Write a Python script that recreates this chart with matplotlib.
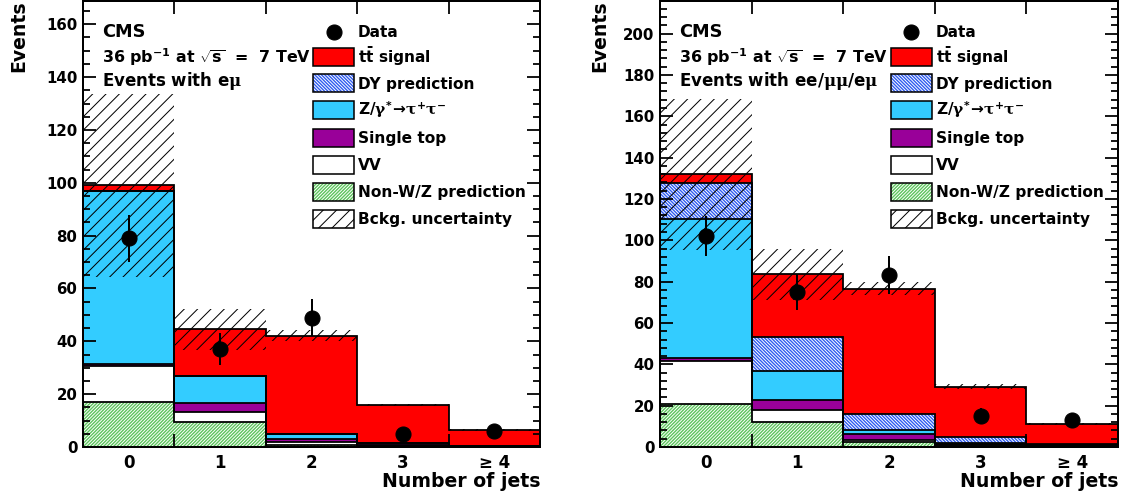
import matplotlib
matplotlib.use('Agg')
import matplotlib.pyplot as plt
import numpy as np
from matplotlib.patches import Rectangle
from matplotlib.lines import Line2D
from matplotlib.ticker import MultipleLocator, FixedLocator

# ---------------- data ----------------
bin_labels = ['0', '1', '2', '3', '\u2265 4']

# left panel: events with e-mu
em_nonwz = [17.0, 9.6, 0.8, 0.2, 0.1]
em_vv = [13.6, 3.5, 1.0, 0.3, 0.1]
em_stop = [1.0, 3.4, 1.1, 0.5, 0.2]
em_ztt = [65.3, 10.4, 2.0, 0.5, 0.1]
em_dy = [0.0, 0.0, 0.0, 0.0, 0.0]
em_ttbar = [2.2, 17.7, 37.3, 14.4, 5.9]
em_unc = [34.6, 7.7, 1.9, 0.5, 0.3]
em_data = [79, 37, 49, 5, 6]
em_err = [8.9, 6.1, 7.0, 2.2, 2.4]

# right panel: events with ee/mumu/emu
all_nonwz = [21.0, 12.1, 2.5, 0.6, 0.3]
all_vv = [20.6, 5.7, 1.1, 0.3, 0.3]
all_stop = [1.6, 5.1, 2.7, 0.5, 0.3]
all_ztt = [67.0, 13.9, 2.1, 0.5, 0.3]
all_dy = [17.7, 16.3, 7.5, 2.9, 0.4]
all_ttbar = [4.0, 30.4, 60.7, 24.4, 9.7]
all_unc = [36.6, 12.2, 3.3, 1.3, 0.5]
all_data = [102, 75, 83, 15, 13]
all_err = [9.7, 8.7, 9.2, 3.9, 3.6]

legend_labels = ['Data', r'$\mathbf{t\bar{t}}$ signal', 'DY prediction',
                 r'Z/$\gamma^{*}\!\rightarrow\!\tau^{+}\tau^{-}$', 'Single top', 'VV',
                 'Non-W/Z prediction', 'Bckg. uncertainty']

# ---------------- style ----------------
W, H = 1128, 503
DPI = 80
plt.rcParams['font.family'] = ['DejaVu Sans']
plt.rcParams['font.weight'] = 'bold'
plt.rcParams['mathtext.fontset'] = 'custom'
plt.rcParams['mathtext.rm'] = 'DejaVu Sans:bold'
plt.rcParams['mathtext.bf'] = 'DejaVu Sans:bold'
plt.rcParams['mathtext.it'] = 'DejaVu Serif'
plt.rcParams['hatch.linewidth'] = 0.9

RED = '#ff0000'
CYAN = '#33ccff'
PURPLE = '#990099'
GREEN = '#5cc45c'
BLUE = '#2f5cf0'

styles = [
    dict(facecolor='white', edgecolor=GREEN, hatch='/' * 8),    # non-W/Z
    dict(facecolor='white', edgecolor='white'),                  # VV
    dict(facecolor=PURPLE, edgecolor=PURPLE),                    # single top
    dict(facecolor=CYAN, edgecolor=CYAN),                        # Z->tautau
    dict(facecolor='white', edgecolor=BLUE, hatch='\\' * 8),     # DY
    dict(facecolor=RED, edgecolor=RED),                          # ttbar
]
BAND_HATCH = '//'
DENSE_HATCH_LW = 1.25

fig = plt.figure(figsize=(W / DPI, H / DPI), dpi=DPI)


def fx(px):
    return px / W


def fy(py):
    return 1 - py / H


def hatch_lw(st):
    return DENSE_HATCH_LW if 'hatch' in st else 0.9


def draw_panel(ax, comps, unc, data, err, ymax, minor_step):
    x = np.arange(len(bin_labels))
    edges = np.arange(len(bin_labels) + 1) - 0.5
    cum = np.zeros(len(x))
    tops = []
    for vals, st in zip(comps, styles):
        vals = np.asarray(vals, float)
        with plt.rc_context({'hatch.linewidth': hatch_lw(st)}):
            ax.bar(x, vals, bottom=cum, width=1.0, linewidth=0, zorder=1, **st)
        cum = cum + vals
        tops.append(cum.copy())
    for t in tops:
        ax.stairs(t, edges, baseline=0, color='k', lw=1.6, zorder=2)
    unc = np.asarray(unc, float)
    ax.bar(x, 2 * unc, bottom=cum - unc, width=1.0, facecolor='none',
           edgecolor='k', hatch=BAND_HATCH, linewidth=0, zorder=3)
    ax.errorbar(x, data, yerr=err, fmt='o', color='k', ms=13.5,
                elinewidth=1.8, capsize=0, zorder=4)
    ax.set_xlim(-0.5, 4.5)
    ax.set_ylim(0, ymax)
    ax.set_xticks(x)
    ax.set_xticklabels(bin_labels, fontsize=15, fontweight='bold')
    ax.xaxis.set_minor_locator(FixedLocator(edges[1:-1]))
    ax.tick_params(axis='x', which='major', length=0, pad=6)
    ax.tick_params(axis='x', which='minor', direction='in', top=True,
                   bottom=True, length=11.5, width=1.6)
    ax.yaxis.set_major_locator(MultipleLocator(20))
    ax.yaxis.set_minor_locator(MultipleLocator(minor_step))
    ax.tick_params(axis='y', which='both', direction='in', left=True,
                   right=True, width=1.6, labelsize=13.5, pad=5)
    ax.tick_params(axis='y', which='major', length=11.5)
    ax.tick_params(axis='y', which='minor', length=6.3)
    for lab in ax.get_yticklabels():
        lab.set_fontweight('bold')
    for sp in ax.spines.values():
        sp.set_linewidth(1.8)
        sp.set_zorder(6)


def draw_legend(box_left, text_left):
    rows = [31.7, 57.3, 83.3, 110.0, 138.3, 165.0, 191.7, 219.0]
    bw, bh = 41, 18
    leg_styles = [None, styles[5], styles[4], styles[3], styles[2], styles[1],
                  styles[0], dict(facecolor='white', edgecolor='k', hatch=BAND_HATCH)]
    for i, (yc, st, lab) in enumerate(zip(rows, leg_styles, legend_labels)):
        if st is None:
            fig.add_artist(Line2D([fx(box_left + bw / 2)], [fy(yc)], marker='o',
                                  ms=13.5, color='k', transform=fig.transFigure))
        else:
            lw_h = 0.9 if i == len(rows) - 1 else hatch_lw(st)
            with plt.rc_context({'hatch.linewidth': lw_h}):
                fig.add_artist(Rectangle((fx(box_left), fy(yc + bh / 2)), bw / W, bh / H,
                                         transform=fig.transFigure, linewidth=0, **st))
            fig.add_artist(Rectangle((fx(box_left), fy(yc + bh / 2)), bw / W, bh / H,
                                     transform=fig.transFigure, facecolor='none',
                                     edgecolor='k', linewidth=1.4))
        fig.text(fx(text_left), fy(yc + 5.2), lab, fontsize=13.8, fontweight='bold',
                 ha='left', va='baseline')


def draw_texts(x0, channel):
    fig.text(fx(x0), fy(37.3), 'CMS', fontsize=16, fontweight='bold', va='baseline')
    fig.text(fx(x0), fy(63), r'36 pb$^{-1}$ at $\sqrt{\mathbf{s}}$  =  7 TeV',
             fontsize=14.3, fontweight='bold', va='baseline')
    fig.text(fx(x0), fy(85.5), 'Events with ' + channel, fontsize=15,
             fontweight='bold', va='baseline')


top_px, bot_px = 0.5, 447
axL = fig.add_axes([fx(83), fy(bot_px), (540 - 83) / W, (bot_px - top_px) / H])
axR = fig.add_axes([fx(660), fy(bot_px), (1118 - 660) / W, (bot_px - top_px) / H])

draw_panel(axL, [em_nonwz, em_vv, em_stop, em_ztt, em_dy, em_ttbar],
           em_unc, em_data, em_err, 169, 5)
draw_panel(axR, [all_nonwz, all_vv, all_stop, all_ztt, all_dy, all_ttbar],
           all_unc, all_data, all_err, 216, 4)

draw_texts(101.7, r'e$\mu$')
draw_texts(679.3, r'ee/$\mu\mu$/e$\mu$')
draw_legend(313.3, 358)
draw_legend(890.7, 936)

for xr in (540, 1118):
    fig.text(fx(xr), fy(487), 'Number of jets', fontsize=17, fontweight='bold',
             ha='right', va='baseline')
for xc in (19, 600):
    fig.text(fx(xc), fy(0.5), 'Events', fontsize=17, fontweight='bold',
             rotation=90, ha='center', va='top')

fig.savefig('out.png', dpi=DPI)
